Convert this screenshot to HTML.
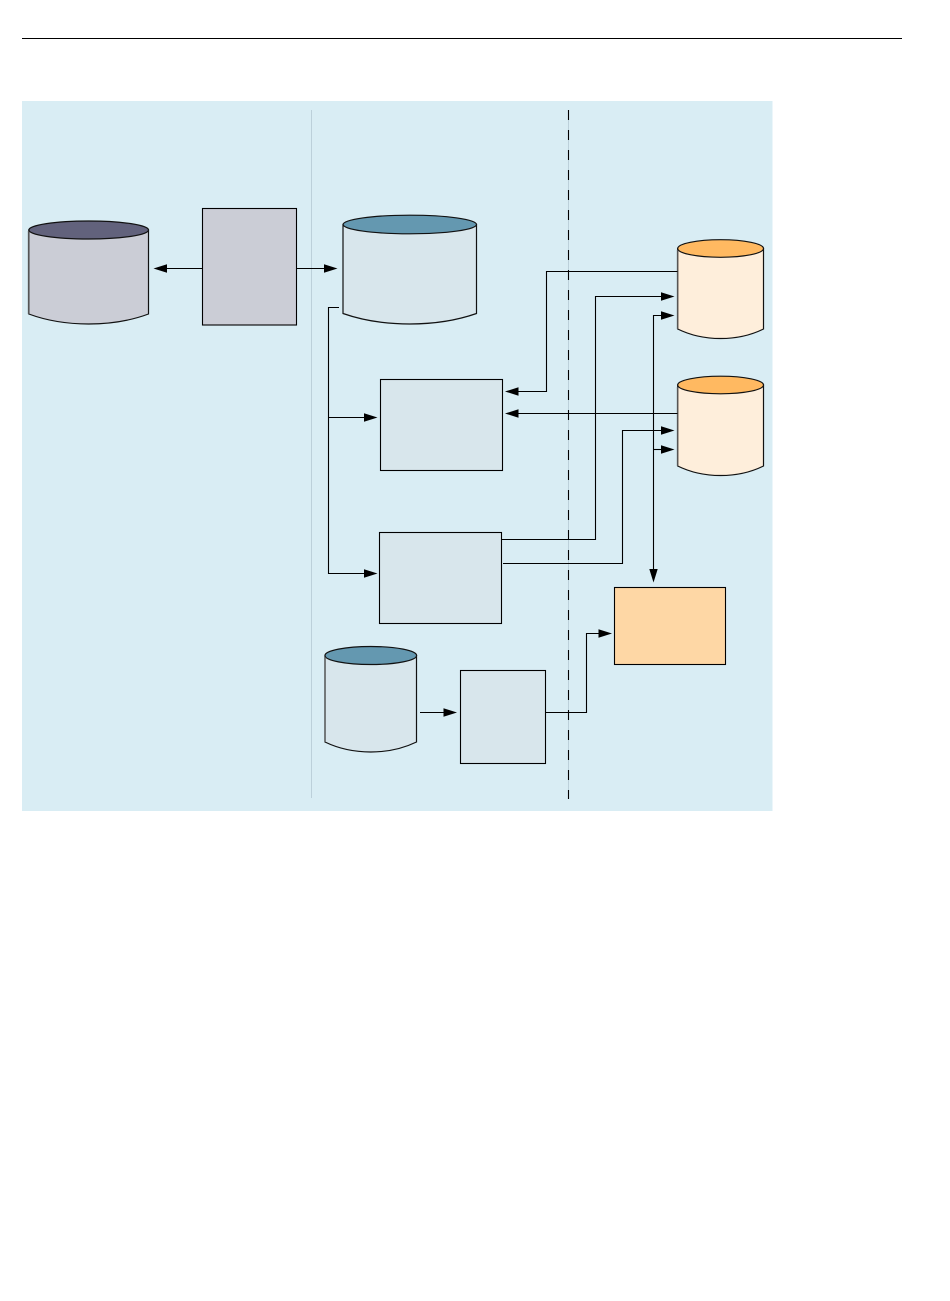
<!DOCTYPE html>
<html>
<head>
<meta charset="utf-8">
<style>
html,body{margin:0;padding:0;background:#fff;width:950px;height:1301px;overflow:hidden}
svg{display:block}
</style>
</head>
<body>
<svg width="950" height="1301" viewBox="0 0 950 1301" xmlns="http://www.w3.org/2000/svg">
<defs>
<g id="r"><path d="M0 0L-13.5 -4.2L-13.5 4.2Z" fill="#000"/></g>
</defs>
<rect width="950" height="1301" fill="#fff"/>
<path d="M22 38.5H902" stroke="#000" stroke-width="1.1" fill="none"/>
<rect x="22" y="101" width="750.5" height="710" fill="#d9edf4"/>
<path d="M311.5 110V798" stroke="#bcd0da" stroke-width="1" fill="none"/>
<path d="M568.5 110V799" stroke="#bcd0da" stroke-width="1" fill="none"/>
<path d="M568.5 110V799" stroke="#000" stroke-width="1.1" stroke-dasharray="10 10" fill="none"/>

<!-- cylinders -->
<g stroke="#111" stroke-width="1.2">
<path d="M28.8 230V314C64.6 327.3 112.7 327.3 148.5 314V230Z" fill="#cbcdd6"/>
<ellipse cx="88.7" cy="230" rx="59.8" ry="9" fill="#62627c"/>
<path d="M343 224.5V313.5C383 327.5 436.5 327.5 476.5 313.5V224.5Z" fill="#d8e6ec"/>
<ellipse cx="409.8" cy="224.5" rx="66.7" ry="9.3" fill="#6498b0"/>
<path d="M677.7 248.5V329C703.4 341.7 737.8 341.7 763.5 329V248.5Z" fill="#feeedb"/>
<ellipse cx="720.6" cy="248.5" rx="42.9" ry="8.8" fill="#ffb961"/>
<path d="M677.7 385V466C703.4 478.7 737.8 478.7 763.5 466V385Z" fill="#feeedb"/>
<ellipse cx="720.6" cy="385" rx="42.9" ry="8.8" fill="#ffb961"/>
<path d="M325 655.5V742C352.5 755.3 389 755.3 416.5 742V655.5Z" fill="#d8e6ec"/>
<ellipse cx="370.8" cy="655.5" rx="45.8" ry="9" fill="#6498b0"/>
</g>
<g stroke="#555" stroke-width="1.3" fill="none">
<path d="M28.5 231V314"/><path d="M677.5 250V329"/><path d="M677.5 387V466"/><path d="M325 657V742"/>
</g>

<!-- boxes -->
<g stroke="#000" stroke-width="1.1">
<rect x="202.5" y="208.5" width="94" height="116.5" fill="#cbcdd6"/>
<rect x="380.5" y="379.5" width="122" height="91" fill="#d8e6ec"/>
<rect x="379.5" y="532.5" width="122" height="91" fill="#d8e6ec"/>
<rect x="614.5" y="587.5" width="111" height="77" fill="#fed7a5"/>
<rect x="460.5" y="670.5" width="85" height="93" fill="#d8e6ec"/>
</g>

<!-- connectors -->
<g stroke="#000" stroke-width="1.1" fill="none">
<path d="M202 268.5H160"/>
<path d="M297 268.5H330"/>
<path d="M339 307.5H328.5V573.5H370"/>
<path d="M328.5 417.5H370"/>
<path d="M677.5 271.5H546.5V391.5H512"/>
<path d="M677.5 413.5H512"/>
<path d="M502 539.5H595.5V296.5H665"/>
<path d="M503 563.5H622.5V430.5H665"/>
<path d="M665 315.5H653.5V572"/>
<path d="M653.5 449.5H665"/>
<path d="M420 712.5H450"/>
<path d="M546 712.5H586.5V633.5H602"/>
</g>

<!-- arrowheads -->
<use href="#r" transform="translate(153.5 268.5) rotate(180)"/>
<use href="#r" transform="translate(337.5 268.5)"/>
<use href="#r" transform="translate(377.5 417.5)"/>
<use href="#r" transform="translate(377.5 573.5)"/>
<use href="#r" transform="translate(505 391.5) rotate(180)"/>
<use href="#r" transform="translate(505 413.5) rotate(180)"/>
<use href="#r" transform="translate(674.5 296.5)"/>
<use href="#r" transform="translate(674.5 315.5)"/>
<use href="#r" transform="translate(674.5 430.5)"/>
<use href="#r" transform="translate(674.5 449.5)"/>
<use href="#r" transform="translate(653.5 582.5) rotate(90)"/>
<use href="#r" transform="translate(457 712.5)"/>
<use href="#r" transform="translate(612 633.5)"/>
</svg>
</body>
</html>
